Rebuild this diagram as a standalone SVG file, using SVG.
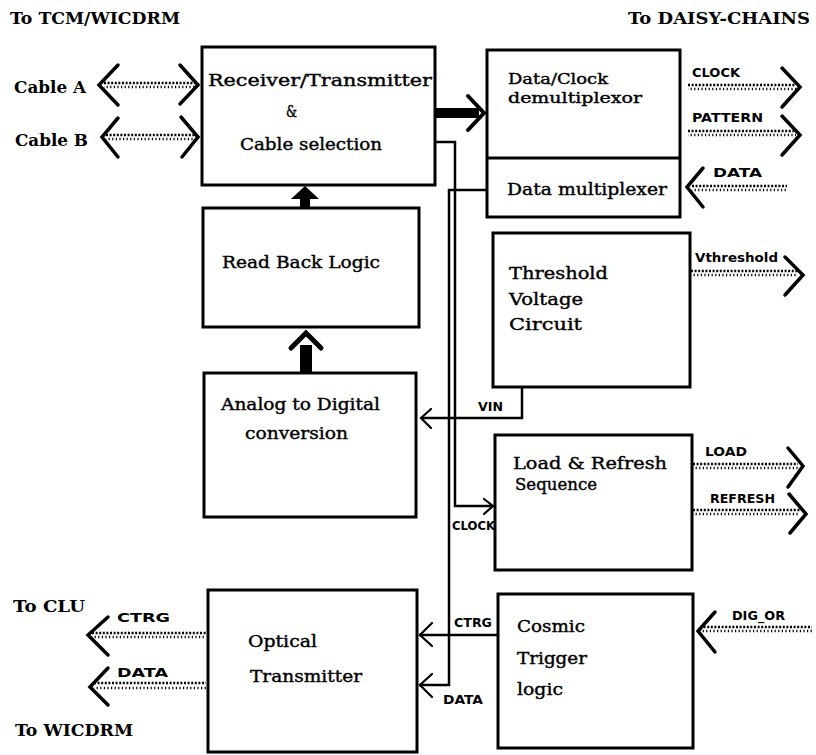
<svg xmlns="http://www.w3.org/2000/svg" width="816" height="755" viewBox="0 0 816 755">
<style>
.box{fill:#fff;stroke:#000;stroke-width:3}
.bt{font-family:"DejaVu Serif","Liberation Serif",serif;font-size:17px;fill:#000;stroke:#000;stroke-width:0.4}
.lb{font-family:"DejaVu Serif","Liberation Serif",serif;font-weight:bold;font-size:16px;fill:#000}
.sl{font-family:"DejaVu Sans","Liberation Sans",sans-serif;font-weight:bold;font-size:12px;fill:#000}
.ln{fill:none;stroke:#000;stroke-width:2.5}
.ch{fill:none;stroke:#000;stroke-width:3.5;stroke-linecap:round;stroke-linejoin:miter}
.ah{fill:none;stroke:#000;stroke-width:2.2;stroke-linecap:round}
.d1{stroke:#000;stroke-width:2.4;stroke-dasharray:2 1.6}
.d2{stroke:#000;stroke-width:2.4;stroke-dasharray:1.2 2.4;stroke-dashoffset:1}
</style>
<rect width="816" height="755" fill="#fff"/>

<!-- free labels -->
<text class="lb" x="10" y="24" textLength="170" lengthAdjust="spacingAndGlyphs">To TCM/WICDRM</text>
<text class="lb" x="628" y="24" textLength="182" lengthAdjust="spacingAndGlyphs">To DAISY-CHAINS</text>
<text class="lb" x="14" y="93" textLength="72" lengthAdjust="spacingAndGlyphs">Cable A</text>
<text class="lb" x="15" y="146" textLength="73" lengthAdjust="spacingAndGlyphs">Cable B</text>
<text class="lb" x="13" y="612" textLength="72" lengthAdjust="spacingAndGlyphs">To CLU</text>
<text class="lb" x="15" y="736" textLength="118" lengthAdjust="spacingAndGlyphs">To WICDRM</text>

<g id="receiver">
<rect class="box" x="202" y="47" width="233" height="138"/>
<text class="bt" x="208" y="86" textLength="224" lengthAdjust="spacingAndGlyphs">Receiver/Transmitter</text>
<text class="bt" x="286" y="117" textLength="11" lengthAdjust="spacingAndGlyphs">&amp;</text>
<text class="bt" x="240" y="150" textLength="142" lengthAdjust="spacingAndGlyphs">Cable selection</text>
</g>

<g id="readback">
<rect class="box" x="203" y="208" width="216" height="119"/>
<text class="bt" x="222" y="268" textLength="158" lengthAdjust="spacingAndGlyphs">Read Back Logic</text>
</g>

<g id="adc">
<rect class="box" x="204" y="373" width="212" height="144"/>
<text class="bt" x="221" y="410" textLength="159" lengthAdjust="spacingAndGlyphs">Analog to Digital</text>
<text class="bt" x="245" y="439" textLength="103" lengthAdjust="spacingAndGlyphs">conversion</text>
</g>

<g id="optical">
<rect class="box" x="208" y="590" width="209" height="162"/>
<text class="bt" x="248" y="647" textLength="69" lengthAdjust="spacingAndGlyphs">Optical</text>
<text class="bt" x="250" y="682" textLength="112" lengthAdjust="spacingAndGlyphs">Transmitter</text>
</g>

<g id="demux">
<rect class="box" x="487" y="50" width="193" height="167"/>
<line class="ln" x1="487" y1="158" x2="680" y2="158" style="stroke-width:3"/>
<text class="bt" x="508" y="84" textLength="100" lengthAdjust="spacingAndGlyphs" style="font-size:15px">Data/Clock</text>
<text class="bt" x="508" y="103" textLength="134" lengthAdjust="spacingAndGlyphs" style="font-size:15px">demultiplexor</text>
<text class="bt" x="507" y="195" textLength="160" lengthAdjust="spacingAndGlyphs">Data multiplexer</text>
</g>

<g id="threshold">
<rect class="box" x="493" y="233" width="197" height="154"/>
<text class="bt" x="509" y="279" textLength="99" lengthAdjust="spacingAndGlyphs">Threshold</text>
<text class="bt" x="509" y="305" textLength="74" lengthAdjust="spacingAndGlyphs">Voltage</text>
<text class="bt" x="509" y="330" textLength="73" lengthAdjust="spacingAndGlyphs">Circuit</text>
</g>

<g id="loadrefresh">
<rect class="box" x="495" y="435" width="197" height="135"/>
<text class="bt" x="513" y="469" textLength="154" lengthAdjust="spacingAndGlyphs">Load &amp; Refresh</text>
<text class="bt" x="515" y="490" textLength="82" lengthAdjust="spacingAndGlyphs">Sequence</text>
</g>

<g id="cosmic">
<rect class="box" x="498" y="594" width="195" height="154"/>
<text class="bt" x="517" y="632" textLength="68" lengthAdjust="spacingAndGlyphs">Cosmic</text>
<text class="bt" x="517" y="664" textLength="70" lengthAdjust="spacingAndGlyphs">Trigger</text>
<text class="bt" x="517" y="695" textLength="46" lengthAdjust="spacingAndGlyphs">logic</text>
</g>

<g id="connectors">
<!-- thick arrows -->
<rect x="435" y="108" width="44" height="10" fill="#000"/>
<polyline class="ch" points="468,96 484,113 468,130" style="stroke-width:4"/>
<rect x="300" y="194" width="10" height="14" fill="#000"/>
<polygon points="291,199 305,186 319,199" fill="#000"/>
<rect x="300" y="345" width="12" height="28" fill="#000"/>
<polyline class="ch" points="291,348 306,333 321,348" style="stroke-width:5"/>

<!-- cable double arrows -->
<line class="d1" x1="104" y1="83" x2="196" y2="83"/><line class="d2" x1="104" y1="87" x2="196" y2="87"/>
<polyline class="ch" points="118,65 99,85 118,105"/><polyline class="ch" points="180,65 198,85 180,104"/>
<line class="d1" x1="106" y1="135" x2="196" y2="135"/><line class="d2" x1="106" y1="139" x2="196" y2="139"/>
<polyline class="ch" points="118,118 102,137 118,157"/><polyline class="ch" points="181,117 198,137 182,157"/>

<!-- CLOCK from receiver to load & refresh -->
<polyline class="ln" points="435,142 455,142 455,506 492,506"/>
<polyline class="ah" points="484,499 493,506 484,514"/>
<text class="sl" x="452" y="530" textLength="43" lengthAdjust="spacingAndGlyphs">CLOCK</text>

<!-- DATA from data multiplexer to optical transmitter -->
<polyline class="ln" points="487,190 449,190 449,685 419,685"/>
<polyline class="ah" points="432,674 420,685 432,697"/>
<text class="sl" x="443" y="704" textLength="40" lengthAdjust="spacingAndGlyphs">DATA</text>

<!-- VIN -->
<polyline class="ln" points="522,387 522,418 421,418"/>
<polyline class="ah" points="431,409 421,418 431,428"/>
<text class="sl" x="478" y="411" textLength="25" lengthAdjust="spacingAndGlyphs">VIN</text>

<!-- CTRG -->
<line class="ln" x1="498" y1="635" x2="419" y2="635"/>
<polyline class="ah" points="432,623 420,635 432,646"/>
<text class="sl" x="454" y="627" textLength="38" lengthAdjust="spacingAndGlyphs">CTRG</text>

<!-- outputs to daisy chains -->
<text class="sl" x="692" y="77" textLength="48" lengthAdjust="spacingAndGlyphs">CLOCK</text>
<line class="d1" x1="688" y1="85" x2="796" y2="85"/><line class="d2" x1="688" y1="89" x2="796" y2="89"/>
<polyline class="ch" points="782,68 800,87 782,107"/>
<text class="sl" x="692" y="122" textLength="71" lengthAdjust="spacingAndGlyphs">PATTERN</text>
<line class="d1" x1="688" y1="131" x2="796" y2="131"/><line class="d2" x1="688" y1="135" x2="796" y2="135"/>
<polyline class="ch" points="782,116 800,135 782,155"/>
<text class="sl" x="713" y="177" textLength="49" lengthAdjust="spacingAndGlyphs">DATA</text>
<line class="d1" x1="692" y1="186" x2="787" y2="186"/><line class="d2" x1="692" y1="190" x2="787" y2="190"/>
<polyline class="ch" points="703,168 687,187 703,207"/>

<text class="sl" x="695" y="262" textLength="83" lengthAdjust="spacingAndGlyphs">Vthreshold</text>
<line class="d1" x1="691" y1="271" x2="798" y2="271"/><line class="d2" x1="691" y1="275" x2="798" y2="275"/>
<polyline class="ch" points="785,257 803,275 785,295"/>

<text class="sl" x="705" y="456" textLength="42" lengthAdjust="spacingAndGlyphs">LOAD</text>
<line class="d1" x1="693" y1="464" x2="798" y2="464"/><line class="d2" x1="693" y1="468" x2="798" y2="468"/>
<polyline class="ch" points="788,448 803,466 788,487"/>
<text class="sl" x="710" y="503" textLength="65" lengthAdjust="spacingAndGlyphs">REFRESH</text>
<line class="d1" x1="693" y1="510" x2="800" y2="510"/><line class="d2" x1="693" y1="514" x2="800" y2="514"/>
<polyline class="ch" points="789,494 806,514 790,533"/>

<text class="sl" x="732" y="620" textLength="53" lengthAdjust="spacingAndGlyphs">DIG_OR</text>
<line class="d1" x1="700" y1="627" x2="812" y2="627"/><line class="d2" x1="700" y1="631" x2="812" y2="631"/>
<polyline class="ch" points="715,612 698,631 715,652"/>

<!-- outputs left -->
<text class="sl" x="117" y="622" textLength="53" lengthAdjust="spacingAndGlyphs">CTRG</text>
<line class="d1" x1="92" y1="633" x2="206" y2="633"/><line class="d2" x1="92" y1="637" x2="206" y2="637"/>
<polyline class="ch" points="108,617 88,635 108,655"/>
<text class="sl" x="117" y="677" textLength="51" lengthAdjust="spacingAndGlyphs">DATA</text>
<line class="d1" x1="94" y1="683" x2="206" y2="683"/><line class="d2" x1="94" y1="688" x2="206" y2="688"/>
<polyline class="ch" points="108,668 90,687 108,705"/>
</g>
</svg>
